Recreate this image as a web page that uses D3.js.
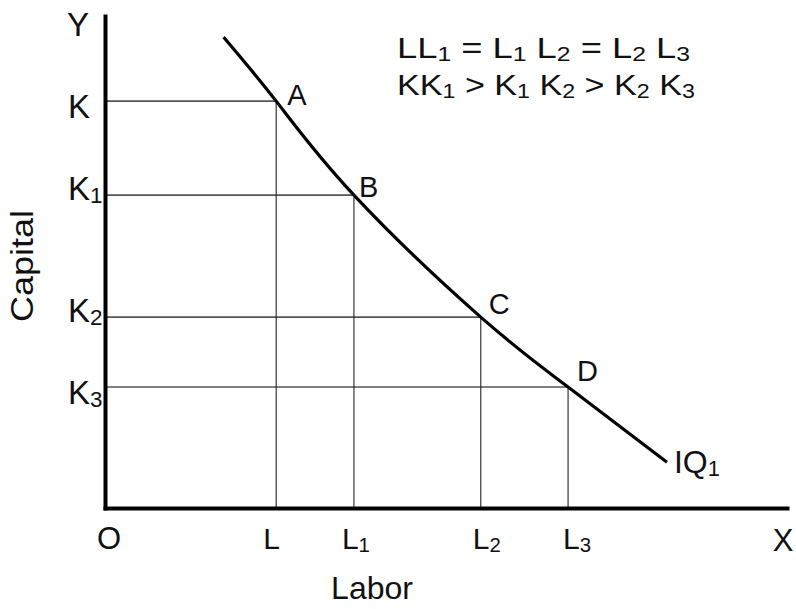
<!DOCTYPE html>
<html lang="en">

<head>
    <meta charset="UTF-8">
    <title>Isoquant IQ1</title>
    <script type='text/javascript' src='https://d3js.org/d3.v7.min.js'></script>
    <style>
        body { margin: 0; background: #fff; }
        text { font-family: "Liberation Sans", Arial, sans-serif; fill: #111; }
    </style>
</head>

<body>
    <script>
        // points on the isoquant (labor, capital)
        const pointNames = ["A", "B", "C", "D"];
        const labor = [2.51, 3.65, 5.51, 6.79];
        const capital = [8.27, 6.36, 3.88, 2.46];
        const laborLabels = ["L", "L1", "L2", "L3"];
        const capitalLabels = ["K", "K1", "K2", "K3"];

        // whole curve, ends included
        const curveLabor = [1.74, 2.51, 3.65, 5.51, 6.79, 8.24];
        const curveCapital = [9.57, 8.27, 6.36, 3.88, 2.46, 0.93];

        const notes = ["LL1 = L1 L2 = L2 L3", "KK1 > K1 K2 > K2 K3"];

        const width = 796, height = 609;

        var svg = d3.select('body').append("svg")
            .attr("width", width)
            .attr("height", height);

        var x = d3.scaleLinear().domain([0, 10]).range([105, 787]);
        var y = d3.scaleLinear().domain([0, 10]).range([508, 16]);

        // digits are drawn as subscripts
        function subText(sel, str, size) {
            var parts = str.match(/\d|[^\d]+/g);
            var down = false;
            parts.forEach(function (p) {
                var t = sel.append("tspan").text(p);
                if (/\d/.test(p)) {
                    t.attr("font-size", size * 0.68).attr("dy", down ? 0 : size * 0.1);
                    down = true;
                } else {
                    t.attr("font-size", size).attr("dy", down ? -size * 0.1 : 0);
                    down = false;
                }
            });
        }

        // guide lines
        svg.selectAll(".hguide").data(labor).enter().append("line")
            .attr("x1", x(0)).attr("x2", function (d) { return x(d); })
            .attr("y1", function (d, i) { return y(capital[i]); })
            .attr("y2", function (d, i) { return y(capital[i]); })
            .attr("stroke", "#555").attr("stroke-width", 1.6);
        svg.selectAll(".vguide").data(labor).enter().append("line")
            .attr("x1", function (d) { return x(d); })
            .attr("x2", function (d) { return x(d); })
            .attr("y1", function (d, i) { return y(capital[i]); })
            .attr("y2", y(0))
            .attr("stroke", "#222").attr("stroke-width", 1.1);

        // axes
        svg.append("g")
            .attr("transform", "translate(0," + y(0) + ")")
            .call(d3.axisBottom(x).tickValues([]).tickSizeOuter(0));
        svg.append("g")
            .attr("transform", "translate(" + x(0) + ",0)")
            .call(d3.axisLeft(y).tickValues([]).tickSizeOuter(0));
        svg.selectAll(".domain")
            .attr("stroke", "#000").attr("stroke-width", 4)
            .attr("stroke-linecap", "square");

        // isoquant
        var line = d3.line()
            .x(function (d) { return x(d); })
            .y(function (d, i) { return y(curveCapital[i]); })
            .curve(d3.curveNatural);
        svg.append("path")
            .attr("d", line(curveLabor))
            .attr("fill", "none")
            .attr("stroke", "#000")
            .attr("stroke-width", 3.2);

        // point labels
        var ptDx = [11, 5, 8, 9], ptDy = [4, 2, -3, -6];
        svg.selectAll(".pt").data(pointNames).enter().append("text")
            .attr("x", function (d, i) { return x(labor[i]) + ptDx[i]; })
            .attr("y", function (d, i) { return y(capital[i]) + ptDy[i]; })
            .attr("font-size", 29)
            .text(function (d) { return d; });

        var last = curveLabor.length - 1;
        svg.append("text")
            .attr("x", x(curveLabor[last]) + 7)
            .attr("y", y(curveCapital[last]) + 11)
            .call(subText, "IQ1", 32);

        // tick labels
        var kDy = [17, 5, 5, 17];
        capitalLabels.forEach(function (s, i) {
            svg.append("text")
                .attr("x", 68)
                .attr("y", y(capital[i]) + kDy[i])
                .call(subText, s, 33);
        });
        var lDx = [-13, -12, -8, -5];
        laborLabels.forEach(function (s, i) {
            svg.append("text")
                .attr("x", x(labor[i]) + lDx[i])
                .attr("y", 549)
                .call(subText, s, 30);
        });
        svg.append("text").attr("x", x(0) + 4).attr("y", 549)
            .attr("text-anchor", "middle").attr("font-size", 31).text("O");
        svg.append("text").attr("x", 783).attr("y", 551)
            .attr("text-anchor", "middle").attr("font-size", 31).text("X");
        svg.append("text").attr("x", 78).attr("y", 36)
            .attr("text-anchor", "middle").attr("font-size", 33).text("Y");

        // axis titles
        svg.append("text").attr("x", 372).attr("y", 599)
            .attr("text-anchor", "middle").attr("font-size", 32).text("Labor");
        svg.append("text")
            .attr("transform", "translate(33,266) rotate(-90)")
            .attr("text-anchor", "middle").attr("font-size", 32)
            .attr("textLength", 112).attr("lengthAdjust", "spacingAndGlyphs")
            .text("Capital");

        // notes at top right, stretched to the width seen in the picture
        var noteWidth = [293, 298];
        notes.forEach(function (s, i) {
            var g = svg.append("g");
            var t = g.append("text").call(subText, s, 29);
            var w = t.node().getBBox().width;
            g.attr("transform", "translate(397," + (58 + i * 37) + ") scale(" + (noteWidth[i] / w) + ",1)");
        });
    </script>
</body>

</html>
